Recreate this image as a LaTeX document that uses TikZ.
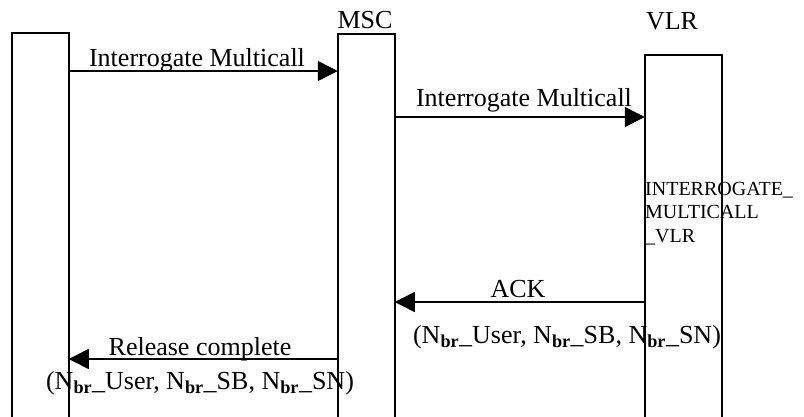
\documentclass[tikz,border=0pt]{standalone}
\usepackage{fontspec}
\setmainfont{Liberation Serif}
\usetikzlibrary{arrows.meta}
\tikzset{
  lifebox/.style={draw, line width=1.5pt, anchor=north west, inner sep=0pt, minimum height=420pt},
  msg/.style={line width=1.5pt, -{Triangle[length=20pt,width=20pt]}, shorten >=-0.75pt},
  lbl/.style={anchor=base, inner sep=0pt, font=\fontsize{26}{30}\selectfont},
  small/.style={anchor=north west, inner sep=0pt, align=left, font=\fontsize{20}{23.5}\selectfont}
}
\newcommand{\nbr}{N\textsubscript{\textbf{br}}}
\begin{document}
\begin{tikzpicture}[x=1pt,y=-1pt]
\useasboundingbox (0,0) rectangle (804,416);
\node[lifebox, minimum width=57pt] (ue) at (11,32) {};
\node[lifebox, minimum width=57pt] (msc) at (337,33) {};
\node[lifebox, minimum width=77pt] (vlr) at (644,54) {};
\node[lbl] (msclbl) at (365,28) {MSC};
\node[lbl] (vlrlbl) at (672,29) {VLR};
% messages
\coordinate (a1) at (0,71);
\coordinate (a2) at (0,117);
\coordinate (a3) at (0,302);
\coordinate (a4) at (0,359);
\draw[msg] (ue.east |- a1) -- (msc.west |- a1);
\node[lbl] (m1) at (197,66) {Interrogate Multicall};
\draw[msg] (msc.east |- a2) -- (vlr.west |- a2);
\node[lbl] (m2) at (524,106) {Interrogate Multicall};
\node[small] (proc) at (645,182) {INTERROGATE\_\\MULTICALL\\\_VLR};
\draw[msg] (vlr.west |- a3) -- (msc.east |- a3);
\node[lbl] (m3) at (518,297) {ACK};
\node[lbl] (p3) at (567,343) {(\nbr\_User, \nbr\_SB, \nbr\_SN)};
\draw[msg] (msc.west |- a4) -- (ue.east |- a4);
\node[lbl] (m4) at (200,355) {Release complete};
\node[lbl] (p4) at (200,389) {(\nbr\_User, \nbr\_SB, \nbr\_SN)};
\end{tikzpicture}
\end{document}
